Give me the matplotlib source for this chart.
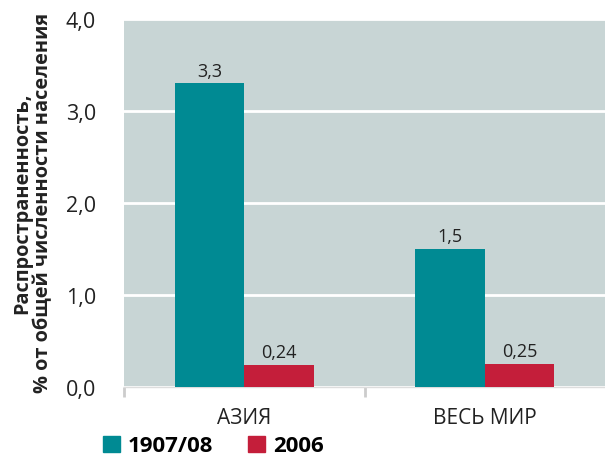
import numpy as np
import matplotlib.pyplot as plt
from matplotlib.patches import Patch

plt.rcParams['font.family'] = ['Open Sans', 'DejaVu Sans']

categories = ["АЗИЯ", "ВЕСЬ МИР"]
series_names = ["1907/08", "2006"]
vals_1907 = [3.3, 1.5]
vals_2006 = [0.24, 0.25]
labels_1907 = ["3,3", "1,5"]
labels_2006 = ["0,24", "0,25"]
yticks = [0.0, 1.0, 2.0, 3.0, 4.0]
ytick_labels = ["0,0", "1,0", "2,0", "3,0", "4,0"]

teal = "#008a93"
red = "#c41e3a"
bg = "#c8d5d5"
txt = "#222222"

fig = plt.figure(figsize=(6.05, 4.64), dpi=100)
ax = fig.add_axes([124 / 605, 1 - 388 / 464, 481 / 605, 368 / 464])
ax.set_facecolor(bg)

x = np.arange(len(categories))
w = 0.29
b1 = ax.bar(x - w / 2, vals_1907, w, color=teal, zorder=3)
b2 = ax.bar(x + w / 2, vals_2006, w, color=red, zorder=3)

for bars, labs in [(b1, labels_1907), (b2, labels_2006)]:
    for r, t in zip(bars, labs):
        ax.text(r.get_x() + r.get_width() / 2, r.get_height() + 0.04, t,
                ha="center", va="bottom", fontsize=13, color=txt, zorder=4)

ax.set_xlim(-0.5, 1.5)
ax.set_ylim(0, 4.0)
ax.set_yticks(yticks)
ax.set_yticklabels(ytick_labels, fontsize=15.5, color=txt)
ax.tick_params(axis="y", length=0, pad=20)
ax.grid(axis="y", color="white", linewidth=2, zorder=1)
ax.set_axisbelow(True)

ax.set_xticks([-0.5, 0.5])
ax.set_xticklabels([])
ax.tick_params(axis="x", length=7, color="#cccccc", width=2)
for i, c in enumerate(categories):
    ax.text(i, -0.22, c, ha="center", va="top", fontsize=15, color=txt)

for s in ["top", "right", "left"]:
    ax.spines[s].set_visible(False)
ax.spines["bottom"].set_color("#dddddd")
ax.spines["bottom"].set_linewidth(1)

fig.text(33 / 605, 1 - 203 / 464, "Распространенность,\n% от общей численности населения",
         rotation=90, ha="center", va="center", fontsize=14.3, fontweight="bold",
         color=txt, linespacing=1.05)

handles = [Patch(color=teal), Patch(color=red)]
fig.legend(handles, series_names, loc="center left", bbox_to_anchor=(103 / 605, 1 - 447 / 464),
           ncol=2, frameon=False, handlelength=0.75, handleheight=0.75, handletextpad=0.35,
           columnspacing=1.6, borderpad=0, borderaxespad=0,
           prop={"size": 16, "weight": "bold"})

fig.savefig("out.png", dpi=100)
